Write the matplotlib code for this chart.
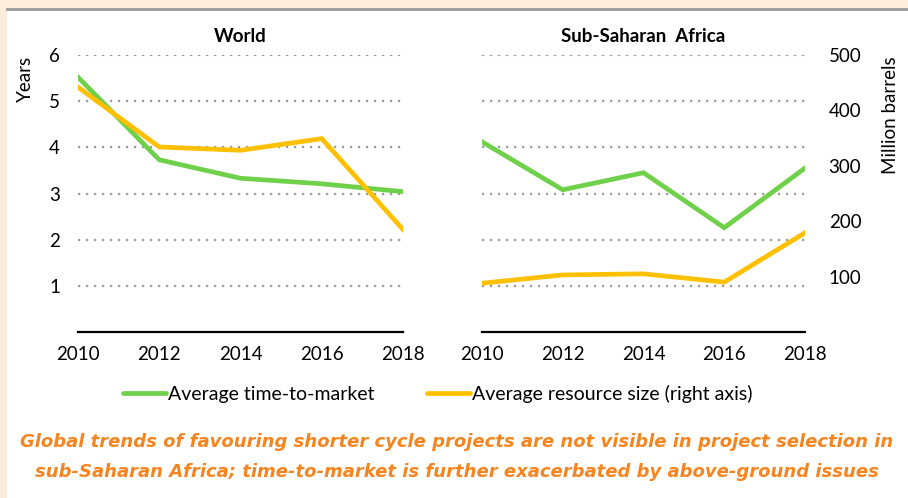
import matplotlib.pyplot as plt
from matplotlib.lines import Line2D
from matplotlib.patches import Rectangle

# years on the x axis
years = [2010, 2012, 2014, 2016, 2018]

# average time-to-market (years, left axis)
world_ttm = [5.52, 3.73, 3.33, 3.21, 3.04]
ssa_ttm = [4.12, 3.08, 3.45, 2.26, 3.55]

# average resource size (million barrels, right axis)
world_size = [442, 334, 328, 349, 185]
ssa_size = [88, 103, 105, 90, 179]

left_ticks = [1, 2, 3, 4, 5, 6]
right_ticks = [100, 200, 300, 400, 500]

GREEN = "#6fd04a"
YELLOW = "#ffc000"
ORANGE = "#f6841f"
GRID = "#9a9a9a"
FONT = "Lato"
FS = 13.5

plt.rcParams["font.family"] = [FONT, "DejaVu Sans"]

fig = plt.figure(figsize=(9.08, 4.98), dpi=100)
fig.patch.set_facecolor("white")

# peach frame strip on the left/top and the grey rule under it
fig.add_artist(Rectangle((0, 0), 7 / 908, 1, transform=fig.transFigure,
                         facecolor="#fdeddc", edgecolor="none", zorder=0))
fig.add_artist(Rectangle((0, 1 - 8 / 498), 1, 8 / 498, transform=fig.transFigure,
                         facecolor="#fdeddc", edgecolor="none", zorder=0))
fig.add_artist(Line2D([7 / 908, 1], [1 - 9 / 498, 1 - 9 / 498],
                      transform=fig.transFigure, color="#999999", lw=2))

bottom = (498 - 332) / 498
height = (332 - 55) / 498
ax1 = fig.add_axes([78 / 908, bottom, 325 / 908, height])
ax2 = fig.add_axes([482 / 908, bottom, 323 / 908, height])


def style_panel(ax, title, left_labels):
    ax.set_xlim(2010, 2018)
    ax.set_ylim(0, 6)
    ax.set_xticks(years)
    ax.set_yticks(left_ticks)
    ax.grid(axis="y", color=GRID, linestyle=(0, (1, 2.6)), linewidth=1.6)
    ax.set_axisbelow(True)
    for side in ["top", "right", "left"]:
        ax.spines[side].set_visible(False)
    ax.spines["bottom"].set_linewidth(1.6)
    ax.tick_params(axis="both", length=0, labelsize=FS)
    ax.tick_params(axis="x", pad=10)
    ax.tick_params(axis="y", pad=13)
    if not left_labels:
        ax.set_yticklabels([])
    ax.set_title(title, fontsize=13.5, fontweight="bold", pad=9)


style_panel(ax1, "World", True)
style_panel(ax2, "Sub-Saharan  Africa", False)
ax1.set_ylabel("Years", fontsize=FS)
ax1.yaxis.set_label_coords(-0.136, 0.915)

ax1.plot(years, world_ttm, color=GREEN, lw=3.4, solid_joinstyle="miter", zorder=3)
ax2.plot(years, ssa_ttm, color=GREEN, lw=3.4, solid_joinstyle="miter", zorder=3)

tw1 = ax1.twinx()
tw2 = ax2.twinx()
for tw in (tw1, tw2):
    tw.set_ylim(0, 500)
    for side in ["top", "right", "left", "bottom"]:
        tw.spines[side].set_visible(False)
    tw.tick_params(axis="y", length=0, labelsize=FS, pad=17)
tw1.set_yticks([])
tw2.set_yticks(right_ticks)
tw2.set_ylabel("Million barrels", fontsize=FS)
tw2.yaxis.set_label_coords(1.238, 0.783)

tw1.plot(years, world_size, color=YELLOW, lw=3.4, solid_joinstyle="miter", zorder=3)
tw2.plot(years, ssa_size, color=YELLOW, lw=3.4, solid_joinstyle="miter", zorder=3)

handles = [Line2D([], [], color=GREEN, lw=3.4, solid_capstyle="round"),
           Line2D([], [], color=YELLOW, lw=3.4, solid_capstyle="round")]
fig.legend(handles, ["Average time-to-market", "Average resource size (right axis)"],
           loc="center", bbox_to_anchor=(0.482, 1 - 394 / 498), ncol=2, frameon=False,
           fontsize=14, handlelength=2.2, handletextpad=0.1, columnspacing=2.7)

caption = ("Global trends of favouring shorter cycle projects are not visible in project selection in\n"
           "sub-Saharan Africa; time-to-market is further exacerbated by above-ground issues")
fig.text(0.503, 1 - 457 / 498, caption, ha="center", va="center", color=ORANGE,
         fontsize=13, fontweight="bold", fontstyle="italic", linespacing=1.85,
         family=["DejaVu Sans"])

fig.savefig("out.png", dpi=100)
